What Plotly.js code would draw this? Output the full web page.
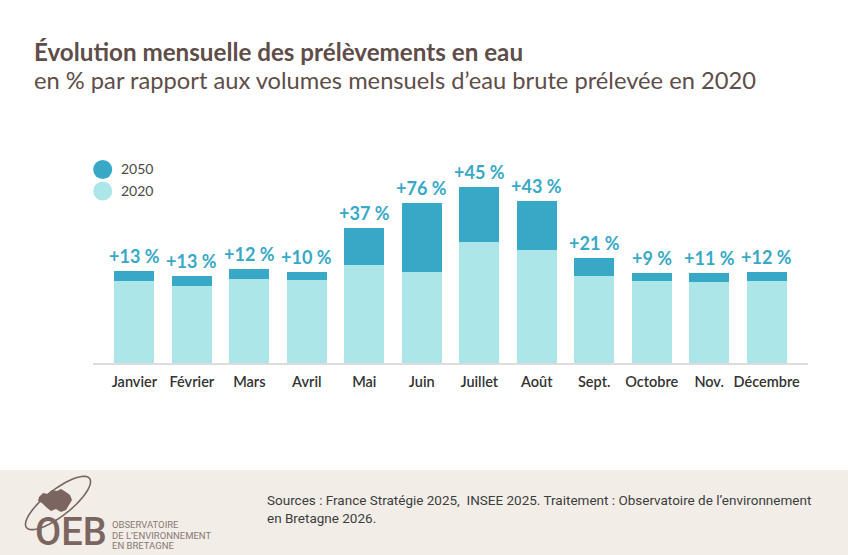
<!DOCTYPE html>
<html lang="fr">
<head>
<meta charset="utf-8">
<script src="https://cdn.plot.ly/plotly-3.0.1.min.js"></script>
<style>
  html, body { margin: 0; padding: 0; background: #ffffff; }
  #chart { width: 848px; height: 555px; }
</style>
</head>
<body>
<div id="chart"></div>
<script>
// Mois de l'année
const mois = ['Janvier', 'Février', 'Mars', 'Avril', 'Mai', 'Juin',
              'Juillet', 'Août', 'Sept.', 'Octobre', 'Nov.', 'Décembre'];

// Volumes mensuels d'eau brute prélevée en 2020 (indice relatif)
const volume2020 = [81.7, 77.3, 84, 83, 98.3, 91, 121.3, 113, 87, 82.3, 80.7, 81.7];

// Hausse projetée des prélèvements en 2050, en % du volume 2020
const hausse2050 = [13, 13, 12, 10, 37, 76, 45, 43, 21, 9, 11, 12];

// Supplément 2050 et volume total 2050
const supplement2050 = volume2020.map((v, i) => v * hausse2050[i] / 100);
const total2050 = volume2020.map((v, i) => v + supplement2050[i]);

const COL_2020 = '#ade6e8';
const COL_2050 = '#37a9c7';
const BRUN = '#5e4d49';

// Repère en pixels -> coordonnées "paper"
const M = { l: 93, r: 40, t: 120, b: 192 };
const W = 848, H = 555;
const PW = W - M.l - M.r, PH = H - M.t - M.b;
const px = x => (x - M.l) / PW;
const py = y => (H - M.b - y) / PH;

const traces = [
  {
    type: 'bar', name: '2020', x: mois, y: volume2020,
    marker: { color: COL_2020, line: { width: 0 } },
    showlegend: false, hoverinfo: 'skip'
  },
  {
    type: 'bar', name: '2050', x: mois, y: supplement2050,
    marker: { color: COL_2050, line: { width: 0 } },
    showlegend: false, hoverinfo: 'skip'
  }
];

// Étiquettes de hausse au-dessus des barres
const annotations = mois.map((m, i) => ({
  x: m, y: total2050[i], xref: 'x', yref: 'y',
  text: '+' + hausse2050[i] + ' %',
  showarrow: false, yanchor: 'bottom', yshift: 2,
  font: { family: 'Lato, sans-serif', size: 18, color: COL_2050, weight: 700 }
}));

// Titre et sous-titre
annotations.push(
  { xref: 'paper', yref: 'paper', x: px(32), y: py(51), xanchor: 'left', yanchor: 'middle',
    text: 'Évolution mensuelle des prélèvements en eau', showarrow: false,
    font: { family: 'Lato, sans-serif', size: 24.2, color: BRUN, weight: 700 } },
  { xref: 'paper', yref: 'paper', x: px(32), y: py(80), xanchor: 'left', yanchor: 'middle',
    text: 'en % par rapport aux volumes mensuels d’eau brute prélevée en 2020', showarrow: false,
    font: { family: 'Lato, sans-serif', size: 23.7, color: BRUN } }
);

// Légende
const legende = [['2050', COL_2050, 169.5], ['2020', COL_2020, 191]];
const shapes = [];
legende.forEach(([lab, col, y]) => {
  shapes.push({
    type: 'circle', xref: 'paper', yref: 'paper',
    xsizemode: 'pixel', ysizemode: 'pixel',
    xanchor: px(102.7), yanchor: py(y),
    x0: -9.5, x1: 9.5, y0: -9.5, y1: 9.5,
    fillcolor: col, line: { width: 0 }
  });
  annotations.push({
    xref: 'paper', yref: 'paper', x: px(119), y: py(y - 1), xanchor: 'left', yanchor: 'middle',
    text: lab, showarrow: false,
    font: { family: 'Lato, sans-serif', size: 14, color: '#4a4a4a' }
  });
});

// Bandeau de pied de page
shapes.push({
  type: 'rect', xref: 'paper', yref: 'paper', layer: 'below',
  x0: px(0), x1: px(W), y0: py(470), y1: py(H),
  fillcolor: '#f2eee7', line: { width: 0 }
});

// Logo OEB : ellipse inclinée et silhouette de la Bretagne
const LOGO = '#7b6560';
(function () {
  const cx = 58, cy = 503, a = 40, b = 13, rot = -38 * Math.PI / 180;
  let d = '';
  for (let k = 0; k <= 72; k++) {
    const t = k / 72 * 2 * Math.PI;
    const ex = a * Math.cos(t), ey = b * Math.sin(t);
    const X = cx + ex * Math.cos(rot) - ey * Math.sin(rot);
    const Y = cy + ex * Math.sin(rot) + ey * Math.cos(rot);
    d += (k === 0 ? 'M' : 'L') + px(X).toFixed(5) + ',' + py(Y).toFixed(5);
  }
  shapes.push({ type: 'path', xref: 'paper', yref: 'paper', path: d,
                line: { color: LOGO, width: 1.6 } });
  const bzh = [[39, 497], [43, 493], [48, 494], [52, 490], [57, 491], [61, 489], [66, 492],
               [70, 495], [72, 500], [69, 505], [66, 510], [61, 512], [56, 509], [51, 511],
               [46, 507], [42, 503], [38, 501]];
  let p = bzh.map((q, k) => (k ? 'L' : 'M') + px(q[0]).toFixed(5) + ',' + py(q[1]).toFixed(5)).join('') + 'Z';
  shapes.push({ type: 'path', xref: 'paper', yref: 'paper', path: p,
                fillcolor: LOGO, line: { width: 0 } });
})();

annotations.push(
  { xref: 'paper', yref: 'paper', x: px(33), y: py(532), xanchor: 'left', yanchor: 'middle',
    text: 'OEB', showarrow: false,
    font: { family: 'Roboto, sans-serif', size: 38, color: LOGO, weight: 500 } },
  { xref: 'paper', yref: 'paper', x: px(110), y: py(524), xanchor: 'left', yanchor: 'middle',
    text: 'OBSERVATOIRE', showarrow: false,
    font: { family: 'Roboto, sans-serif', size: 9.5, color: '#8b7873' } },
  { xref: 'paper', yref: 'paper', x: px(110), y: py(535), xanchor: 'left', yanchor: 'middle',
    text: 'DE L’ENVIRONNEMENT', showarrow: false,
    font: { family: 'Roboto, sans-serif', size: 9.5, color: '#8b7873' } },
  { xref: 'paper', yref: 'paper', x: px(110), y: py(545), xanchor: 'left', yanchor: 'middle',
    text: 'EN BRETAGNE', showarrow: false,
    font: { family: 'Roboto, sans-serif', size: 9.5, color: '#8b7873' } },
  { xref: 'paper', yref: 'paper', x: px(265), y: py(500), xanchor: 'left', yanchor: 'middle',
    text: 'Sources : France Stratégie 2025,  INSEE 2025. Traitement : Observatoire de l’environnement',
    showarrow: false, font: { family: 'Roboto, sans-serif', size: 13.5, color: '#3d3d3d' } },
  { xref: 'paper', yref: 'paper', x: px(265), y: py(518), xanchor: 'left', yanchor: 'middle',
    text: 'en Bretagne 2026.', showarrow: false,
    font: { family: 'Roboto, sans-serif', size: 13.5, color: '#3d3d3d' } }
);

const layout = {
  width: W, height: H,
  margin: M,
  paper_bgcolor: '#ffffff', plot_bgcolor: '#ffffff',
  barmode: 'stack', bargap: 0.304,
  showlegend: false,
  xaxis: {
    type: 'category', range: [-0.72, 11.72], fixedrange: true,
    showgrid: false, zeroline: false,
    showline: true, linecolor: '#dcdcdc', linewidth: 2,
    ticks: '', ticklabelstandoff: 5,
    tickfont: { family: 'Lato, sans-serif', size: 14.5, color: '#333333', weight: 600 }
  },
  yaxis: { range: [0, PH], visible: false, fixedrange: true },
  shapes: shapes,
  annotations: annotations
};

Plotly.newPlot('chart', traces, layout, { displayModeBar: false, staticPlot: true });
</script>
</body>
</html>
